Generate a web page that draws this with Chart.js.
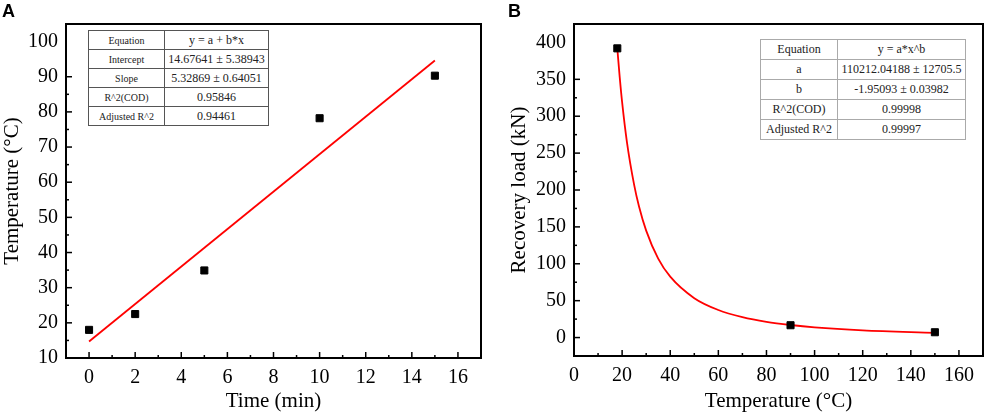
<!DOCTYPE html>
<html>
<head>
<meta charset="utf-8">
<script src="https://cdn.jsdelivr.net/npm/chart.js@4.4.1/dist/chart.umd.min.js"></script>
<style>
  body { margin: 0; background: #fff; }
  #wrap { position: relative; width: 989px; height: 414px; overflow: hidden; }
  .panel { position: absolute; top: 0; height: 414px; }
  #pa { left: 0; width: 495px; }
  #pb { left: 495px; width: 494px; }
  .tag { position: absolute; top: 1px; font: bold 18px "Liberation Sans", Arial, sans-serif; color: #000; }
  table.fit { position: absolute; border-collapse: collapse; font-family: "Liberation Serif", "Times New Roman", serif; color: #222; background: #fff; }
  table.fit td { text-align: center; padding: 0; white-space: nowrap; }
  #ta { left: 88px; top: 30px; }
  #ta td { border: 1px solid #555; height: 18px; }
  #ta td:first-child { width: 75px; font-size: 10px; }
  #ta td:last-child { width: 103px; font-size: 12px; }
  #tb { left: 760px; top: 39px; }
  #tb td { border: 1px solid #aaa; height: 19px; font-size: 12px; }
  #tb td:first-child { width: 76px; }
  #tb td:last-child { width: 127px; }
</style>
</head>
<body>
<div id="wrap">
  <div class="panel" id="pa"><canvas id="chartA"></canvas></div>
  <div class="panel" id="pb"><canvas id="chartB"></canvas></div>
  <div class="tag" style="left:2px">A</div>
  <div class="tag" style="left:508px">B</div>
  <table class="fit" id="ta">
    <tr><td>Equation</td><td>y = a + b*x</td></tr>
    <tr><td>Intercept</td><td>14.67641 ± 5.38943</td></tr>
    <tr><td>Slope</td><td>5.32869 ± 0.64051</td></tr>
    <tr><td>R^2(COD)</td><td>0.95846</td></tr>
    <tr><td>Adjusted R^2</td><td>0.94461</td></tr>
  </table>
  <table class="fit" id="tb">
    <tr><td>Equation</td><td>y = a*x^b</td></tr>
    <tr><td>a</td><td>110212.04188 ± 12705.5</td></tr>
    <tr><td>b</td><td>-1.95093 ± 0.03982</td></tr>
    <tr><td>R^2(COD)</td><td>0.99998</td></tr>
    <tr><td>Adjusted R^2</td><td>0.99997</td></tr>
  </table>
</div>
<script>
// panel A: temperature vs time, with linear fit
const timeA = [0, 2, 5, 10, 15];
const tempA = [18.0, 22.5, 34.9, 78.2, 90.3];
const fitTimeA = [0, 15];
const fitTempA = [14.68, 94.61];
const xTicksA = [0, 2, 4, 6, 8, 10, 12, 14, 16];
const yTicksA = [10, 20, 30, 40, 50, 60, 70, 80, 90, 100];

// panel B: recovery load vs temperature, with power fit curve
const tempB = [18, 90, 150];
const loadB = [392, 16.7, 7.2];
const curveTempB = [18, 19, 20, 22, 25, 27, 30, 35, 40, 50, 60, 70, 80, 90, 100, 120, 150];
const curveLoadB = [392, 353, 319, 265, 207, 178, 145, 107, 82.5, 53.4, 37.4, 27.7, 21.3, 17.0, 13.8, 9.7, 6.3];
const xTicksB = [0, 20, 40, 60, 80, 100, 120, 140, 160];
const yTicksB = [0, 50, 100, 150, 200, 250, 300, 350, 400];

const serif = '"Liberation Serif", "Times New Roman", serif';

// box frame + inward major/minor ticks on bottom and left axes
const frameTicks = {
  id: 'frameTicks',
  afterDatasetsDraw(chart) {
    const { ctx, chartArea: a, scales } = chart;
    ctx.save();
    ctx.strokeStyle = '#000';
    ctx.lineWidth = 1.5;
    ['x', 'y'].forEach(id => {
      const s = scales[id];
      const major = s.ticks.map(t => t.value);
      const minor = [];
      for (let i = 0; i < major.length - 1; i++) minor.push((major[i] + major[i + 1]) / 2);
      if (id === 'x' && major[0] > s.min) minor.unshift(major[0] - (major[1] - major[0]) / 2);
      const mark = (v, len) => {
        const p = s.getPixelForValue(v);
        if (p < a.left - 1 || p > a.right + 1 && id === 'x') return;
        ctx.beginPath();
        if (id === 'x') { ctx.moveTo(p, a.bottom); ctx.lineTo(p, a.bottom - len); }
        else { ctx.moveTo(a.left, p); ctx.lineTo(a.left + len, p); }
        ctx.stroke();
      };
      major.forEach(v => mark(v, 6));
      minor.filter(v => v > s.min && v < s.max).forEach(v => mark(v, 3));
    });
    ctx.lineWidth = 2;
    ctx.strokeRect(a.left, a.top, a.right - a.left, a.bottom - a.top);
    ctx.restore();
  }
};

function axis(min, max, list, title, size, titlePad, horizontal) {
  return {
    type: 'linear', min: min, max: max,
    afterBuildTicks: s => { s.ticks = list.map(v => ({ value: v })); },
    afterFit: s => { if (horizontal) s.height = size; else s.width = size; },
    grid: { display: false, drawTicks: false },
    border: { display: false },
    ticks: { color: '#000', font: { family: serif, size: 20 }, padding: 8 },
    title: { display: true, text: title, color: '#000', font: { family: serif, size: 21 }, padding: { top: titlePad, bottom: 0 } }
  };
}

function makeChart(el, pts, curve, scales, pad) {
  return new Chart(document.getElementById(el), {
    type: 'scatter',
    data: {
      datasets: [
        { data: pts, pointStyle: 'rect', pointRadius: 5, pointBackgroundColor: '#000', pointBorderColor: '#000', showLine: false },
        { type: 'line', data: curve, borderColor: '#f00', borderWidth: 1.8, pointRadius: 0, fill: false, cubicInterpolationMode: 'monotone' }
      ]
    },
    options: {
      responsive: true, maintainAspectRatio: false, animation: false,
      layout: { padding: pad },
      plugins: { legend: { display: false }, tooltip: { enabled: false } },
      scales: scales
    },
    plugins: [frameTicks]
  });
}

makeChart('chartA',
  timeA.map((t, i) => ({ x: t, y: tempA[i] })),
  fitTimeA.map((t, i) => ({ x: t, y: fitTempA[i] })),
  {
    x: axis(-1, 17, xTicksA, 'Time (min)', 56, 0, true),
    y: axis(10, 105, yTicksA, 'Temperature (°C)', 66, 0, false)
  },
  { top: 24, right: 14, left: 0, bottom: 0 });

makeChart('chartB',
  tempB.map((t, i) => ({ x: t, y: loadB[i] })),
  curveTempB.map((t, i) => ({ x: t, y: curveLoadB[i] })),
  {
    x: axis(0, 170, xTicksB, 'Temperature (°C)', 58, 0, true),
    y: axis(-25, 425, yTicksB, 'Recovery load (kN)', 79, 12, false)
  },
  { top: 24, right: 2, left: 0, bottom: 0 });
</script>
</body>
</html>
